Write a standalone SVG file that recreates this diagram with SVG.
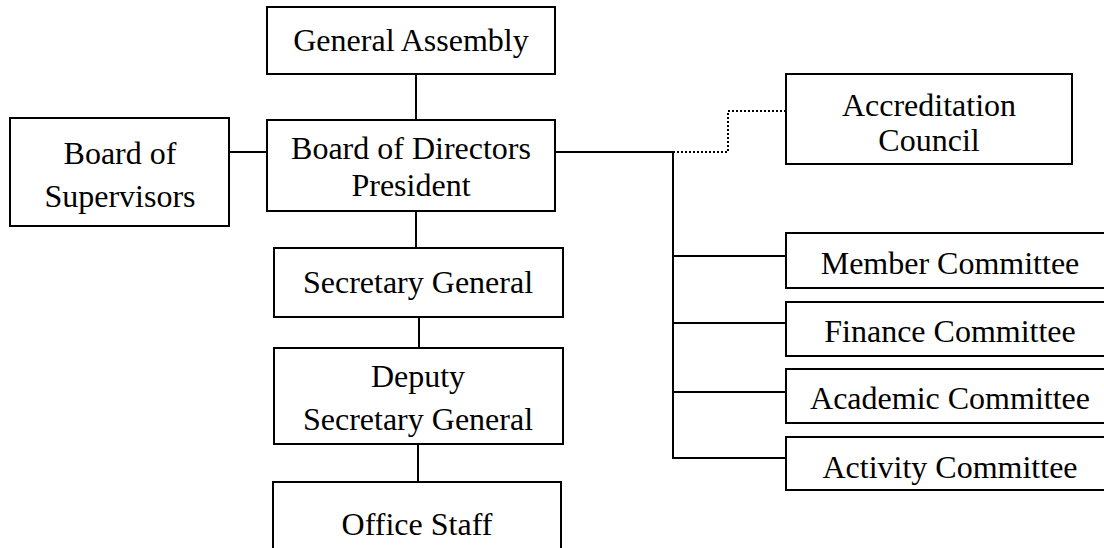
<svg xmlns="http://www.w3.org/2000/svg" width="1104" height="548" viewBox="0 0 1104 548">
<style>
.box{fill:#fff;stroke:#000;stroke-width:2}
.ln{fill:none;stroke:#000;stroke-width:2}
.dot{fill:none;stroke:#000;stroke-width:2;stroke-dasharray:2 2}
text{font-family:"Liberation Serif","Times New Roman",serif;font-size:32px;fill:#000;text-anchor:middle}
</style>
<rect width="1104" height="548" fill="#fff"/>
<g id="connectors">
<line class="ln" x1="416" y1="74" x2="416" y2="120"/>
<line class="ln" x1="229" y1="152" x2="267" y2="152"/>
<line class="ln" x1="416" y1="211" x2="416" y2="248"/>
<line class="ln" x1="419" y1="317" x2="419" y2="348"/>
<line class="ln" x1="418" y1="444" x2="418" y2="482"/>
<polyline class="ln" points="555,152 673,152 673,459"/>
<polyline class="dot" points="673,152 728,152 728,111 786,111"/>
<line class="ln" x1="673" y1="256" x2="786" y2="256"/>
<line class="ln" x1="673" y1="323" x2="786" y2="323"/>
<line class="ln" x1="673" y1="392" x2="786" y2="392"/>
<line class="ln" x1="672" y1="458" x2="786" y2="458"/>
</g>
<g id="general-assembly"><rect class="box" x="267" y="7" width="288" height="67"/><text x="411" y="51">General Assembly</text></g>
<g id="board-of-directors"><rect class="box" x="267" y="120" width="288" height="91"/><text x="411" y="159">Board of Directors</text><text x="411" y="196">President</text></g>
<g id="board-of-supervisors"><rect class="box" x="10" y="118" width="219" height="108"/><text x="120" y="164">Board of</text><text x="120" y="207">Supervisors</text></g>
<g id="accreditation-council"><rect class="box" x="786" y="74" width="286" height="90"/><text x="929" y="116">Accreditation</text><text x="929" y="151">Council</text></g>
<g id="secretary-general"><rect class="box" x="274" y="248" width="289" height="69"/><text x="418" y="293">Secretary General</text></g>
<g id="deputy-secretary-general"><rect class="box" x="274" y="348" width="289" height="96"/><text x="418" y="387">Deputy</text><text x="418" y="430">Secretary General</text></g>
<g id="office-staff"><rect class="box" x="273" y="482" width="288" height="90"/><text x="417" y="535">Office Staff</text></g>
<g id="member-committee"><rect class="box" x="786" y="233" width="340" height="55"/><text x="950" y="274">Member Committee</text></g>
<g id="finance-committee"><rect class="box" x="786" y="302" width="340" height="54"/><text x="950" y="342">Finance Committee</text></g>
<g id="academic-committee"><rect class="box" x="786" y="369" width="340" height="54"/><text x="950" y="409">Academic Committee</text></g>
<g id="activity-committee"><rect class="box" x="786" y="437" width="340" height="53"/><text x="950" y="478">Activity Committee</text></g>
</svg>
